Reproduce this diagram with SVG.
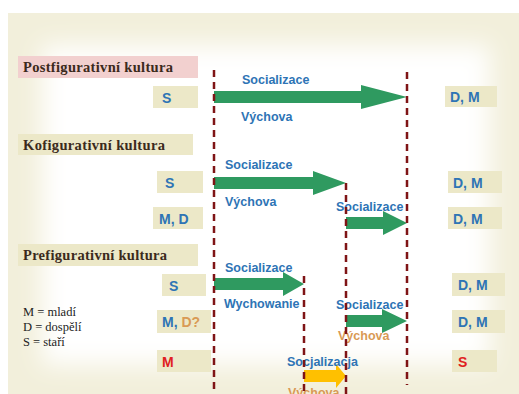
<svg xmlns="http://www.w3.org/2000/svg" width="519" height="394" viewBox="0 0 519 394">
<style>
.ttl{font-family:"Liberation Serif",serif;font-weight:bold;font-size:14.5px;fill:#3b2a1c}
.box{fill:#ece8c8}
.pink{fill:#f2d0cf}
.lbl{font-family:"Liberation Sans",Arial,sans-serif;font-weight:bold;font-size:14px;fill:#2e74b5}
.blue{font-family:"Liberation Sans",Arial,sans-serif;font-weight:bold;font-size:12.5px;fill:#2e74b5}
.org{font-family:"Liberation Sans",Arial,sans-serif;font-weight:bold;font-size:12.5px;fill:#d99a55}
.leg{font-family:"Liberation Serif",serif;font-size:12.5px;fill:#222}
.dash{stroke:#7f1416;stroke-width:2.5;stroke-dasharray:7 5;fill:none}
.grn{fill:#2f9a60}
.yel{fill:#ffc000}
</style>
<defs>
<filter id="blur" x="-20%" y="-20%" width="140%" height="140%"><feGaussianBlur stdDeviation="12"/></filter>
</defs>
<rect width="519" height="394" fill="#ffffff"/>
<rect x="8" y="13" width="511" height="381" fill="#f2efdb"/>
<rect x="42" y="45" width="448" height="320" fill="#ffffff" filter="url(#blur)"/>

<g id="title-post"><rect class="pink" x="18" y="56" width="180" height="22"/><text class="ttl" x="23" y="72" textLength="150" lengthAdjust="spacing">Postfigurativní  kultura</text></g>
<g id="title-kof"><rect class="box" x="18" y="134" width="175" height="21"/><text class="ttl" x="23" y="150" textLength="142" lengthAdjust="spacing">Kofigurativní  kultura</text></g>
<g id="title-pref"><rect class="box" x="18" y="244" width="180" height="22"/><text class="ttl" x="23" y="260" textLength="144" lengthAdjust="spacing">Prefigurativní  kultura</text></g>

<g id="legend">
<text class="leg" x="23" y="316">M = mladí</text>
<text class="leg" x="23" y="331">D = dospělí</text>
<text class="leg" x="23" y="346">S = staří</text>
</g>

<g id="post-S"><rect class="box" x="153" y="86" width="45" height="22"/><text class="lbl" x="162" y="103">S</text></g>
<g id="post-DM"><rect class="box" x="445" y="86" width="52" height="21"/><text class="lbl" x="450" y="102">D, M</text></g>
<g id="kof-S"><rect class="box" x="157" y="171" width="46" height="22"/><text class="lbl" x="165" y="188">S</text></g>
<g id="kof-MD"><rect class="box" x="153" y="207" width="50" height="22"/><text class="lbl" x="159" y="224">M, D</text></g>
<g id="kof-DM1"><rect class="box" x="448" y="171" width="54" height="22"/><text class="lbl" x="453" y="188">D, M</text></g>
<g id="kof-DM2"><rect class="box" x="448" y="207" width="54" height="22"/><text class="lbl" x="453" y="224">D, M</text></g>
<g id="pref-S"><rect class="box" x="162" y="274" width="44" height="22"/><text class="lbl" x="169" y="291">S</text></g>
<g id="pref-MD"><rect class="box" x="157" y="310" width="54" height="23"/><text class="lbl" x="162" y="327">M, <tspan fill="#d99a55">D?</tspan></text></g>
<g id="pref-M"><rect class="box" x="157" y="350" width="54" height="22"/><text class="lbl" x="162" y="367" style="fill:#e02020">M</text></g>
<g id="pref-DM1"><rect class="box" x="452" y="273" width="53" height="23"/><text class="lbl" x="458" y="290">D, M</text></g>
<g id="pref-DM2"><rect class="box" x="452" y="310" width="53" height="23"/><text class="lbl" x="458" y="327">D, M</text></g>
<g id="pref-S2"><rect class="box" x="452" y="350" width="45" height="22"/><text class="lbl" x="458" y="367" style="fill:#e02020">S</text></g>

<g id="connectors">
<polygon class="grn" points="214,91 361,91 361,85 407,97 361,109 361,103 214,103"/>
<polygon class="grn" points="214,177 313,177 313,171 346,183 313,195 313,189 214,189"/>
<polygon class="grn" points="346,217 383,217 383,211 407,223 383,235 383,229 346,229"/>
<polygon class="grn" points="214,278 283,278 283,272 304,284 283,296 283,290 214,290"/>
<polygon class="grn" points="346,315 382,315 382,309 407,321 382,333 382,327 346,327"/>
<polygon class="yel" points="304,370 336,370 336,364 346,376 336,388 336,382 304,382"/>

<text class="blue" x="242" y="84">Socializace</text>
<text class="blue" x="241" y="121">Výchova</text>
<text class="blue" x="225" y="169">Socializace</text>
<text class="blue" x="225" y="206">Výchova</text>
<text class="blue" x="336" y="211">Socializace</text>
<text class="blue" x="225" y="272">Socializace</text>
<text class="blue" x="224" y="308">Wychowanie</text>
<text class="blue" x="336" y="309">Socializace</text>
<text class="org" x="338" y="340">Výchova</text>
<text class="blue" x="287" y="366">Socjalizacja</text>
<text class="org" x="288" y="397">Výchova</text>

<line class="dash" x1="214" y1="70" x2="214" y2="394"/>
<line class="dash" x1="407" y1="72" x2="407" y2="385"/>
<line class="dash" x1="346" y1="183" x2="346" y2="394"/>
<line class="dash" x1="304" y1="276" x2="304" y2="394"/>
</g>
</svg>
